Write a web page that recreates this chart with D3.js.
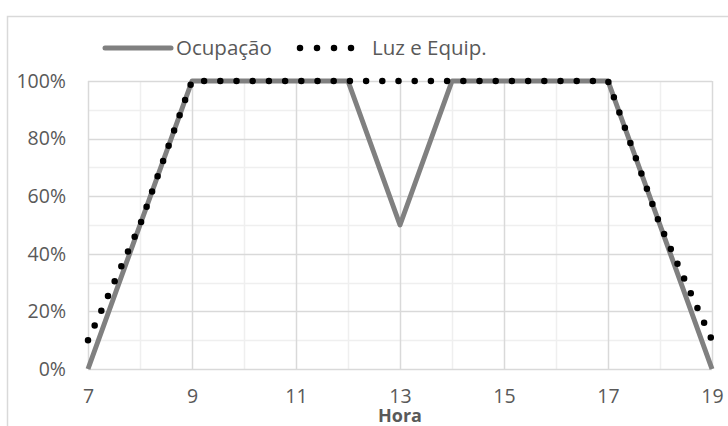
<!DOCTYPE html>
<html>
<head>
<meta charset="utf-8">
<script src="https://cdn.jsdelivr.net/npm/d3@7"></script>
<style>
  body { margin: 0; background: #fff; }
  svg { display: block; font-family: "Open Sans", sans-serif; }
</style>
</head>
<body>
<svg id="chart" width="728" height="426"></svg>
<script>
// hours of the day and the two schedules (%)
const hours = [7, 8, 9, 10, 11, 12, 13, 14, 15, 16, 17, 18, 19]
const ocupacao = [0, 50, 100, 100, 100, 100, 50, 100, 100, 100, 100, 50, 0]
const luzEquip = [10, 50, 100, 100, 100, 100, 100, 100, 100, 100, 100, 50, 10]
const xTicks = [7, 9, 11, 13, 15, 17, 19]
const yTicks = [0, 20, 40, 60, 80, 100]

const svg = d3.select("#chart")
const x = d3.scaleLinear().domain([7, 19]).range([88, 712])
const y = d3.scaleLinear().domain([0, 100]).range([369, 81])

// outer frame (cut off on the right and bottom)
svg.append("rect")
  .attr("x", 7.5).attr("y", 16.5)
  .attr("width", 760).attr("height", 440)
  .attr("fill", "none").attr("stroke", "#d9d9d9").attr("stroke-width", 1.5)

// gridlines: minor first, then major
const grid = svg.append("g")
grid.selectAll(".hminor")
  .data(d3.range(10, 100, 20))
  .join("line")
  .attr("x1", x(7)).attr("x2", x(19))
  .attr("y1", d => Math.round(y(d)) + 0.5).attr("y2", d => Math.round(y(d)) + 0.5)
  .attr("stroke", "#efefef").attr("stroke-width", 1.5)
grid.selectAll(".vminor")
  .data(d3.range(8, 19, 2))
  .join("line")
  .attr("y1", y(0)).attr("y2", y(100))
  .attr("x1", d => Math.round(x(d)) + 0.5).attr("x2", d => Math.round(x(d)) + 0.5)
  .attr("stroke", "#efefef").attr("stroke-width", 1.5)
grid.selectAll(".hmajor")
  .data(yTicks)
  .join("line")
  .attr("x1", x(7)).attr("x2", x(19))
  .attr("y1", d => Math.round(y(d)) + 0.5).attr("y2", d => Math.round(y(d)) + 0.5)
  .attr("stroke", "#d9d9d9").attr("stroke-width", 1.5)
grid.selectAll(".vmajor")
  .data(xTicks)
  .join("line")
  .attr("y1", y(0)).attr("y2", y(100))
  .attr("x1", d => Math.round(x(d)) + 0.5).attr("x2", d => Math.round(x(d)) + 0.5)
  .attr("stroke", "#d9d9d9").attr("stroke-width", 1.5)

// axes labels
const yAxis = svg.append("g")
  .attr("transform", `translate(${x(7) - 22},0)`)
  .call(d3.axisLeft(y).tickValues(yTicks).tickFormat(d => d + "%").tickSize(0).tickPadding(0))
yAxis.select(".domain").remove()
yAxis.selectAll("text")
  .attr("font-size", 19.5).attr("fill", "#595959").attr("font-family", "Open Sans")

const xAxis = svg.append("g")
  .attr("transform", `translate(0,${y(0)})`)
  .call(d3.axisBottom(x).tickValues(xTicks).tickSize(0).tickPadding(20))
xAxis.select(".domain").remove()
xAxis.selectAll("text")
  .attr("font-size", 19.5).attr("fill", "#595959").attr("font-family", "Open Sans")

svg.append("text")
  .attr("x", (x(7) + x(19)) / 2).attr("y", 422)
  .attr("text-anchor", "middle")
  .attr("font-size", 18).attr("font-weight", "bold").attr("fill", "#595959")
  .text("Hora")

// series
const line = d3.line().x(d => x(d[0])).y(d => y(d[1]))

svg.append("path")
  .datum(hours.map((h, i) => [h, ocupacao[i]]))
  .attr("d", line)
  .attr("fill", "none").attr("stroke", "#808080").attr("stroke-width", 5)
  .attr("stroke-linejoin", "round")

svg.append("path")
  .datum(hours.map((h, i) => [h, luzEquip[i]]))
  .attr("d", line)
  .attr("fill", "none").attr("stroke", "#000").attr("stroke-width", 6.5)
  .attr("stroke-linecap", "round").attr("stroke-dasharray", "0 16.2")

// legend
const legend = svg.append("g").attr("font-size", 20.5).attr("fill", "#595959")
legend.append("line")
  .attr("x1", 105).attr("x2", 171).attr("y1", 48).attr("y2", 48)
  .attr("stroke", "#808080").attr("stroke-width", 5).attr("stroke-linecap", "round")
legend.append("text").attr("x", 176).attr("y", 55).text("Ocupação")
legend.append("line")
  .attr("x1", 300).attr("x2", 368).attr("y1", 48).attr("y2", 48)
  .attr("stroke", "#000").attr("stroke-width", 6.5)
  .attr("stroke-linecap", "round").attr("stroke-dasharray", "0 17")
legend.append("text").attr("x", 372).attr("y", 55).text("Luz e Equip.")
</script>
</body>
</html>
